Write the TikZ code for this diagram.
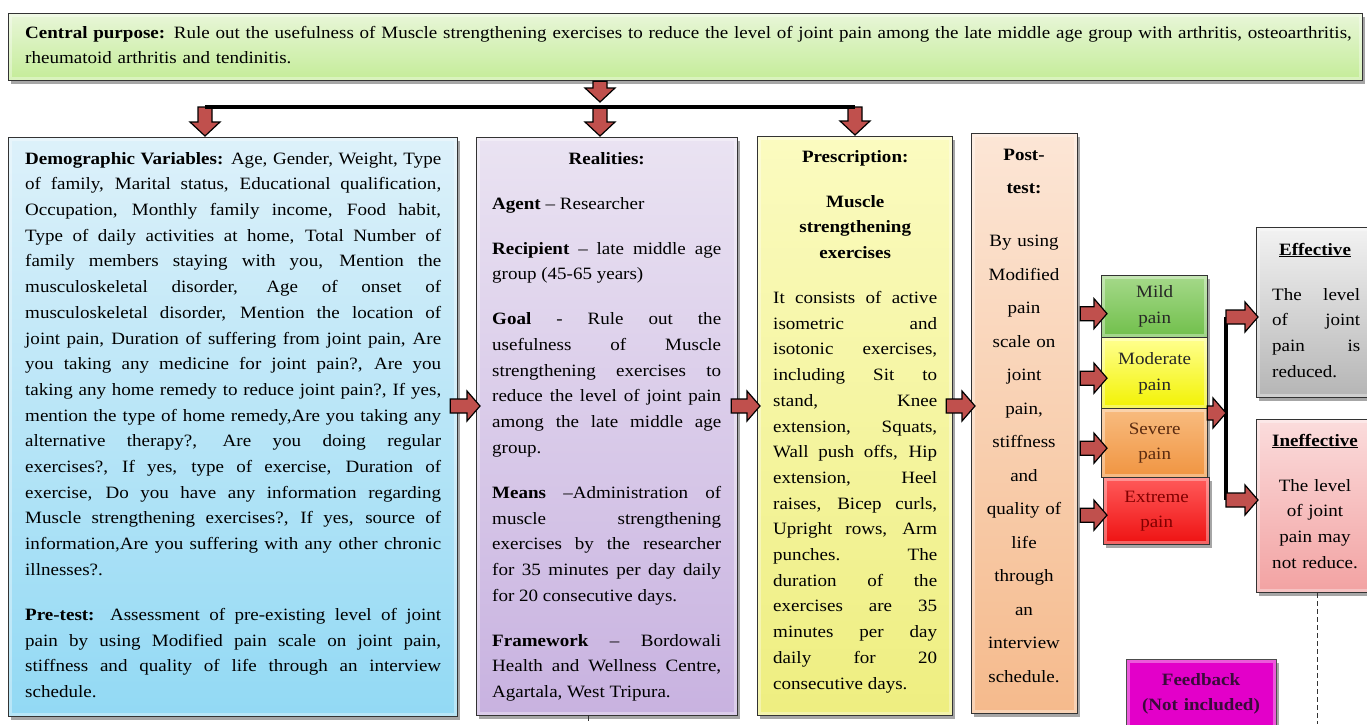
\documentclass[tikz,border=0pt]{standalone}
\usepackage{fontspec}
\setmainfont{Liberation Serif}[FakeStretch=1.1]
\usetikzlibrary{calc,shadows}
\definecolor{arrred}{HTML}{C0504D}
\definecolor{bannerT}{HTML}{E8F6D8}\definecolor{bannerB}{HTML}{C4EC98}
\definecolor{demoT}{HTML}{DDF1FA}\definecolor{demoB}{HTML}{92D9F4}
\definecolor{realT}{HTML}{EAE3F2}\definecolor{realB}{HTML}{C8B2E0}
\definecolor{prescT}{HTML}{FBFBC0}\definecolor{prescB}{HTML}{EEEE80}
\definecolor{postT}{HTML}{FCE6D6}\definecolor{postB}{HTML}{F5BA8C}
\definecolor{mildT}{HTML}{A5D98A}\definecolor{mildB}{HTML}{70BF4A}
\definecolor{modT}{HTML}{FFFF90}\definecolor{modB}{HTML}{F2F200}
\definecolor{sevT}{HTML}{F8BC80}\definecolor{sevB}{HTML}{F09440}
\definecolor{extT}{HTML}{FF5A5A}\definecolor{extB}{HTML}{EE1111}
\definecolor{effT}{HTML}{F2F2F2}\definecolor{effB}{HTML}{B5B5B5}
\definecolor{ineffT}{HTML}{FBDCDC}\definecolor{ineffB}{HTML}{F2A2A2}
\definecolor{fbC}{HTML}{E300C9}
\definecolor{fbText}{HTML}{3A0B3A}
\definecolor{sevText}{HTML}{5A2A10}
\definecolor{extText}{HTML}{800000}
\newcommand\bodyfont{\fontsize{17.3}{25.7}\selectfont}
\newcommand\postfont{\fontsize{17.3}{33.5}\selectfont}
\newcommand\harr[2]{\draw[barrow] let \p1=(#1),\p2=(#2) in (\x1,\y1+7pt) -- (\x2-13pt,\y1+7pt) -- (\x2-13pt,\y1+15pt) -- (\x2,\y1) -- (\x2-13pt,\y1-15pt) -- (\x2-13pt,\y1-7pt) -- (\x1,\y1-7pt) -- cycle;}
\newcommand\varr[2]{\draw[barrow] let \p1=(#1),\p2=(#2) in (\x1-7pt,\y1) -- (\x1-7pt,\y2+14pt) -- (\x1-15pt,\y2+14pt) -- (\x1,\y2) -- (\x1+15pt,\y2+14pt) -- (\x1+7pt,\y2+14pt) -- (\x1+7pt,\y1) -- cycle;}
\hbadness=10000 \hfuzz=6pt
\tikzset{
  box/.style={draw=black!80, line width=1.3pt, anchor=north west, inner sep=0pt,
    drop shadow={shadow xshift=2.5pt, shadow yshift=-3pt, opacity=0.35, fill=black},
    path picture={\draw[white, opacity=0.35, line width=7pt] (path picture bounding box.north west) rectangle (path picture bounding box.south east);}},
  painbox/.style={box, align=center, font=\bodyfont, minimum width=106pt},
  txt/.style={anchor=north west, inner sep=0pt, text width=#1, align=justify, font=\bodyfont},
  ctxt/.style={anchor=north, inner sep=0pt, text width=#1, align=center, font=\bodyfont},
  barrow/.style={fill=arrred, draw=black, line width=1.2pt, line join=miter},
  hline/.style={line width=3.5pt, draw=black},
  dashline/.style={draw=black!80, line width=1pt, dash pattern=on 5pt off 3pt}
}
\begin{document}
\begin{tikzpicture}[x=1pt,y=-1pt]
\useasboundingbox[fill=white] (0,0) rectangle (1367,724);

% boxes
\node[box, top color=bannerT, bottom color=bannerB, minimum width=1354pt, minimum height=67pt] (banner) at (8,13) {};
\node[box, top color=demoT, bottom color=demoB, minimum width=449pt, minimum height=579pt] (demo) at (8,137) {};
\node[box, top color=realT, bottom color=realB, minimum width=261pt, minimum height=578pt] (real) at (476,137) {};
\node[box, top color=prescT, bottom color=prescB, minimum width=195pt, minimum height=579pt] (presc) at (757,136) {};
\node[box, top color=postT, bottom color=postB, minimum width=106pt, minimum height=580pt] (post) at (971,133) {};
\node[painbox, top color=mildT, bottom color=mildB, minimum height=62pt, text=black!85] (mild) at (1101,275) {Mild\\pain};
\node[painbox, top color=modT, bottom color=modB, minimum height=71pt, text=black!85] (moderate) at (1101,337) {Moderate\\pain};
\node[painbox, top color=sevT, bottom color=sevB, minimum height=69pt, text=sevText] (severe) at (1101,408) {Severe\\pain};
\node[painbox, top color=extT, bottom color=extB, minimum height=67pt, text=extText] (extreme) at (1103,477) {Extreme\\pain};
\node[box, top color=effT, bottom color=effB, minimum width=130pt, minimum height=170pt] (eff) at (1256,227) {};
\node[box, top color=ineffT, bottom color=ineffB, minimum width=130pt, minimum height=173pt] (ineff) at (1256,419) {};
\node[box, fill=fbC, draw=black!70, line width=1pt, minimum width=150pt, minimum height=80pt, drop shadow={opacity=0}] (fb) at (1126,659) {};

% texts
\node[txt=1345pt, align=left] (bantxt) at (25,20) {\strut\textbf{Central purpose:} Rule out the usefulness of Muscle strengthening exercises to reduce the level of joint pain among the late middle age group with arthritis, osteoarthritis,\\ rheumatoid arthritis and tendinitis.};

\node[txt=416pt] (demotxt) at (25,146) {\strut\textbf{Demographic Variables:} Age, Gender, Weight, Type\linebreak
of family, Marital status, Educational qualification,\linebreak
Occupation, Monthly family income, Food habit,\linebreak
Type of daily activities at home, Total Number of\linebreak
family members staying with you, Mention the\linebreak
musculoskeletal disorder, Age of onset of\linebreak
musculoskeletal disorder, Mention the location of\linebreak
joint pain, Duration of suffering from joint pain, Are\linebreak
you taking any medicine for joint pain?, Are you\linebreak
taking any home remedy to reduce joint pain?, If yes,\linebreak
mention the type of home remedy,Are you taking any\linebreak
alternative therapy?, Are you doing regular\linebreak
exercises?, If yes, type of exercise, Duration of\linebreak
exercise, Do you have any information regarding\linebreak
Muscle strengthening exercises?, If yes, source of\linebreak
information,Are you suffering with any other chronic\linebreak
illnesses?.\par\vspace{19.3pt}
\textbf{Pre-test:} Assessment of pre-existing level of joint\linebreak
pain by using Modified pain scale on joint pain,\linebreak
stiffness and quality of life through an interview\linebreak
schedule.};

\node[txt=229pt] (realtxt) at (492,146) {{\centering\strut\textbf{Realities:}\par}\vspace{19.3pt}
\textbf{Agent} – Researcher\par\vspace{19.3pt}
\textbf{Recipient} – late middle age\linebreak group (45-65 years)\par\vspace{19.3pt}
\textbf{Goal} - Rule out the\linebreak usefulness of Muscle\linebreak strengthening exercises to\linebreak reduce the level of joint pain\linebreak among the late middle age\linebreak group.\par\vspace{19.3pt}
\textbf{Means} –Administration of\linebreak muscle strengthening\linebreak exercises by the researcher\linebreak for 35 minutes per day daily\linebreak for 20 consecutive days.\par\vspace{19.3pt}
\textbf{Framework} – Bordowali\linebreak Health and Wellness Centre,\linebreak Agartala, West Tripura.};

\node[txt=164pt] (presctxt) at (773,144) {{\centering\strut\textbf{Prescription:}\par}\vspace{19.3pt}
{\centering\textbf{Muscle\\ strengthening\\ exercises}\par}\vspace{19.3pt}
It consists of active\linebreak isometric and\linebreak isotonic exercises,\linebreak including Sit to\linebreak stand, Knee\linebreak extension, Squats,\linebreak Wall push offs, Hip\linebreak extension, Heel\linebreak raises, Bicep curls,\linebreak Upright rows, Arm\linebreak punches. The\linebreak duration of the\linebreak exercises are 35\linebreak minutes per day\linebreak daily for 20\linebreak consecutive days.};

\node[ctxt=100pt, font=\postfont] (posttxt) at (1024,136.5) {\strut\textbf{Post-}\\ \textbf{test:}\\[19.4pt]
By using\\ Modified\\ pain\\ scale on\\ joint\\ pain,\\ stiffness\\ and\\ quality of\\ life\\ through\\ an\\ interview\\ schedule.};

\node[anchor=base, inner sep=0pt, font=\bodyfont\bfseries] (efft) at (1315,255) {\underline{Effective}};
\node[txt=88pt] (efftxt) at (1272,282) {\strut The level\linebreak of joint\linebreak pain is\linebreak reduced.};
\node[anchor=base, inner sep=0pt, font=\bodyfont\bfseries] (inefft) at (1315,446) {\underline{Ineffective}};
\node[ctxt=110pt] (inefftxt) at (1315,473) {\strut The level\\ of joint\\ pain may\\ not reduce.};
\node[ctxt=150pt, font=\bodyfont\bfseries, text=fbText] (fbtxt) at (1201,667) {\strut Feedback\\ (Not included)};

% top connectors
\coordinate (hl) at (205,107);
\coordinate (hm) at (600,107);
\coordinate (hr) at (855,107);
\varr{banner.south -| hm}{$(hm)+(0,-5)$}
\varr{hl}{$(demo.north -| hl)+(0,-1)$}
\varr{hm}{$(real.north -| hm)+(0,-1)$}
\varr{hr}{$(presc.north -| hr)+(0,-1)$}
\draw[hline] (hl) -- (hr);

% row connectors
\coordinate (rowY) at (0,406);
\harr{$(demo.east |- rowY)+(-8,0)$}{$(real.west |- rowY)+(4,0)$}
\harr{$(real.east |- rowY)+(-7,0)$}{$(presc.west |- rowY)+(3,0)$}
\harr{$(presc.east |- rowY)+(-7,0)$}{$(post.west |- rowY)+(4,0)$}

% post-test to pain levels
\harr{$(post.east |- mild)+(2,7)$}{$(mild.west)+(6,7)$}
\harr{$(post.east |- moderate)+(2,5)$}{$(moderate.west)+(6,5)$}
\harr{$(post.east |- severe)+(2,5)$}{$(severe.west)+(6,5)$}
\harr{$(post.east |- extreme)+(2,4)$}{$(extreme.west)+(4,4)$}

% bracket to outcomes
\coordinate (brT) at (1226,317);
\coordinate (brM) at (1226,413);
\coordinate (brB) at (1226,500);
\draw[hline] (brT) -- (brB);
\harr{$(severe.east |- brM)+(-1,0)$}{brM}
\harr{brT}{$(eff.west |- brT)+(2,0)$}
\harr{brB}{$(ineff.west |- brB)+(2,0)$}

% dashed feedback lines
\coordinate (dashA) at (1317,724);
\coordinate (dashB) at (588,724);
\draw[dashline] (ineff.south -| dashA) -- (dashA);
\draw[dashline] (real.south -| dashB) -- (dashB);
\end{tikzpicture}
\end{document}
